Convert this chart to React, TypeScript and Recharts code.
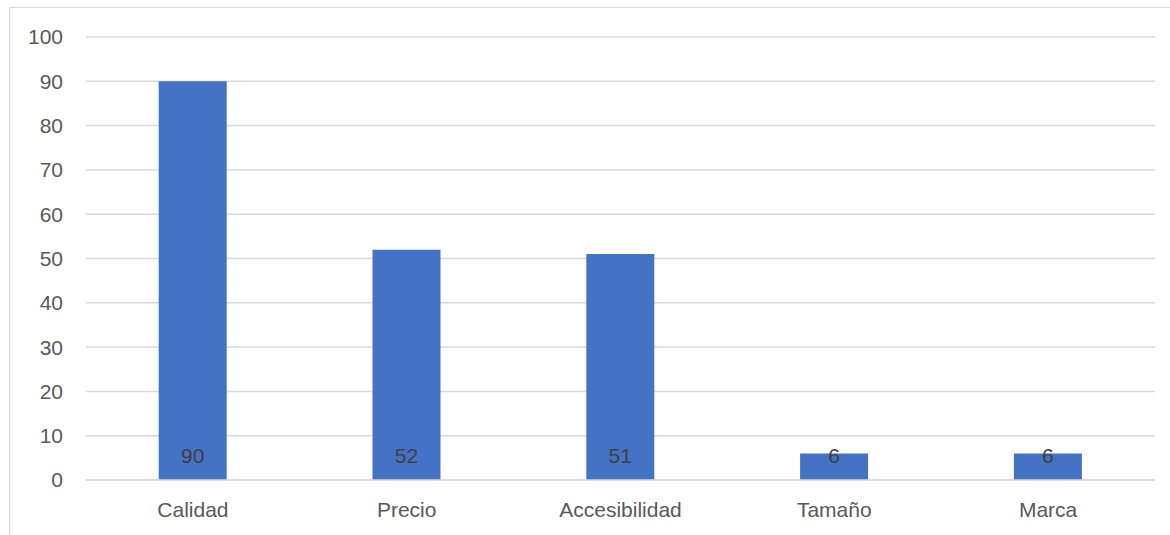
import React from "react";
import { BarChart, Bar, XAxis, YAxis, CartesianGrid, LabelList } from "recharts";

const categories = ["Calidad", "Precio", "Accesibilidad", "Tamaño", "Marca"];
const values = [90, 52, 51, 6, 6];
const yTicks = [0, 10, 20, 30, 40, 50, 60, 70, 80, 90, 100];

const data = categories.map((name, i) => ({ name, value: values[i] }));

const FONT = "'Liberation Sans', Arial, sans-serif";

// Value label drawn near the base of each bar (Excel "inside base" style)
const BaseLabel = (props: any) => {
  const { x, y, width, height, value } = props;
  const base = y + height;
  return (
    <text
      x={x + width / 2}
      y={base - 25}
      textAnchor="middle"
      dominantBaseline="central"
      fill="#404040"
      fontSize={21}
      fontFamily={FONT}
    >
      {value}
    </text>
  );
};

export default function App() {
  return (
    <div style={{ position: "absolute", left: 0, top: 0, width: 1170, height: 535, overflow: "hidden", background: "#fff" }}>
      <div
        style={{
          position: "absolute",
          left: 9,
          top: 7,
          width: 1200,
          height: 600,
          border: "1.5px solid #d9d9d9",
          boxSizing: "border-box",
        }}
      />
      <div style={{ position: "absolute", left: 0, top: 0 }}>
        <BarChart
          width={1170}
          height={535}
          data={data}
          margin={{ top: 37, right: 15, bottom: 0, left: 26 }}
          barCategoryGap="34%"
        >
          <CartesianGrid vertical={false} stroke="#d9d9d9" strokeWidth={1.5} />
          <XAxis
            dataKey="name"
            axisLine={{ stroke: "#d9d9d9", strokeWidth: 1.5 }}
            tickLine={false}
            tickSize={0}
            tickMargin={22}
            height={55}
            tick={{ fill: "#595959", fontSize: 21, fontFamily: FONT }}
            interval={0}
          />
          <YAxis
            domain={[0, 100]}
            ticks={yTicks}
            axisLine={false}
            tickLine={false}
            tickSize={0}
            tickMargin={23}
            width={60}
            tick={{ fill: "#595959", fontSize: 21, fontFamily: FONT }}
          />
          <Bar dataKey="value" fill="#4472C4" isAnimationActive={false}>
            <LabelList dataKey="value" content={<BaseLabel />} />
          </Bar>
        </BarChart>
      </div>
    </div>
  );
}
